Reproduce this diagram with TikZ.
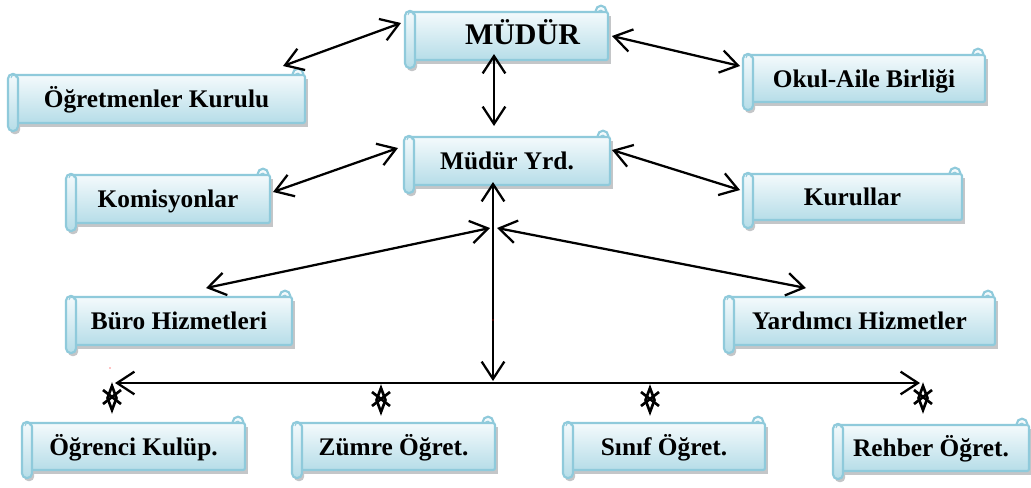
\documentclass[tikz,border=0pt]{standalone}
\usepackage{fontspec}
\setmainfont{Liberation Serif}
\usetikzlibrary{arrows.meta,calc}
\definecolor{bord}{HTML}{8FCADB}
\definecolor{topc}{HTML}{F4FAFC}
\definecolor{botc}{HTML}{B6DDE8}
\definecolor{shadc}{HTML}{C4C6C8}
\tikzset{
  bordline/.style={draw=bord, line width=1.6pt},
  lbl/.style={font=\bfseries\fontsize{19}{21}\selectfont, inner sep=0pt, outer sep=0pt, align=center, text height=13pt, text depth=0pt},
  conn/.style={line width=1.7pt, {Straight Barb[length=13pt,width=17pt]}-{Straight Barb[length=13pt,width=17pt]}},
  xdia/.pic={\draw[line width=2pt, line join=miter] (0,-12) -- (4.5,0) -- (0,12) -- (-4.5,0) -- cycle;
             \draw[line width=2pt] (-9,-8) -- (9,6) (9,-8) -- (-9,6);}
}
% name, x1, y1, x2, y2, text
\newcommand{\scrl}[6]{%
  \fill[shadc] (#2+12,#3+4) rectangle (#4+3,#5+4);
  \fill[shadc, rounded corners=3pt] (#2+2,#3+2) rectangle (#2+12,#5+11);
  \draw[bordline, fill=topc] (#4-7,#3-1) circle (4pt);
  \draw[bordline, line width=0.7pt] (#4-10,#3+1) arc (180:20:2.2pt);
  \draw[bordline, top color=topc, bottom color=botc, rounded corners=1.5pt] (#2+5,#3) rectangle (#4,#5);
  \draw[bordline, top color=topc, bottom color=botc, rounded corners=3.5pt] (#2,#3-1) rectangle (#2+10,#5+8);
  \draw[bordline, line width=0.7pt] (#2+3,#3+3) arc (180:0:2pt);
  \node[lbl, minimum width={(#4-#2)*0.75pt}, minimum height={(#5-#3)*0.75pt}] (#1) at ({(#2+#4)/2},{(#3+#5)/2}) {#6};
}
\begin{document}
\begin{tikzpicture}[x=0.75pt, y=-0.75pt]
\useasboundingbox[fill=white] (0,0) rectangle (1031,487);

\scrl{mudur}{405}{12}{608}{60}{\fontsize{22.5}{24}\selectfont\hspace*{24pt}MÜDÜR}
\scrl{ogr}{8}{75}{305}{123}{Öğretmenler Kurulu}
\scrl{okul}{743}{55}{985}{102}{Okul-Aile Birliği}
\scrl{myrd}{404}{137}{610}{185}{Müdür Yrd.}
\scrl{kom}{66}{175}{270}{223}{Komisyonlar}
\scrl{kur}{743}{174}{962}{220}{Kurullar}
\scrl{buro}{66}{297}{292}{345}{Büro Hizmetleri}
\scrl{yard}{724}{297}{995}{345}{Yardımcı Hizmetler}
\scrl{ogrk}{22}{423}{245}{470}{Öğrenci Kulüp.}
\scrl{zumre}{292}{423}{495}{470}{Zümre Öğret.}
\scrl{sinif}{563}{423}{765}{470}{Sınıf Öğret.}
\scrl{rehber}{833}{425}{1029}{471}{Rehber Öğret.}

\coordinate (jn) at (493,228);
\coordinate (hub) at (493,381);
\coordinate (hl) at (115,383);
\coordinate (hr) at (920,383);

\draw[conn] ($(ogr.north east)+(-22,-9)$) -- ($(mudur.north west)+(-4,11)$);
\draw[conn] ($(mudur.north east)+(4,24)$) -- ($(okul.north west)+(-3,11)$);
\draw[conn] ($(mudur.south)+(-12.5,-6)$) -- ($(myrd.north)+(-13,-11)$);
\draw[conn] ($(myrd.north west)+(-6,11)$) -- ($(kom.north east)+(3,17)$);
\draw[conn] ($(myrd.north east)+(2,13)$) -- ($(kur.north west)+(-3,16)$);
\draw[conn] ($(myrd.south)+(-14,-3)$) -- (hub);
\draw[conn] ($(jn)+(-3,0)$) -- ($(buro.north west)+(140,-9)$);
\draw[conn] ($(jn)+(4,0)$) -- ($(yard.north west)+(82,-9)$);
\draw[conn] (hl) -- (hr);

\pic at (112,398) {xdia};
\pic at (381,400) {xdia};
\pic at (650,400) {xdia};
\pic at (923,398) {xdia};

\fill[red] (110,368) circle (0.5pt);
\fill[red] (493,320) circle (0.5pt);
\end{tikzpicture}
\end{document}
